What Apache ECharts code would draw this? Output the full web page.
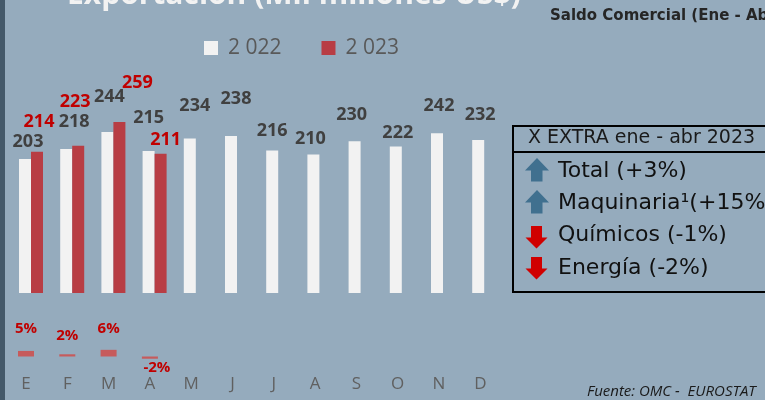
<!DOCTYPE html>
<html>
<head>
<meta charset="utf-8">
<script src="https://cdn.jsdelivr.net/npm/echarts@6/dist/echarts.min.js"></script>
<style>
  html, body { margin: 0; padding: 0; background: #95abbd; }
  #chart { width: 765px; height: 400px; }
</style>
</head>
<body>
<div id="chart"></div>
<script>
  // datos del gráfico
  const months = ['E', 'F', 'M', 'A', 'M', 'J', 'J', 'A', 'S', 'O', 'N', 'D']
  const exp2022 = [203, 218, 244, 215, 234, 238, 216, 210, 230, 222, 242, 232]
  const exp2023 = [214, 223, 259, 211, null, null, null, null, null, null, null, null]
  const varPct = [5, 2, 6, -2, null, null, null, null, null, null, null, null]
  const legendNames = ['2 022', '2 023']

  // ajuste manual de etiquetas (px): elevación sobre la barra y desplazamiento lateral
  const lift22 = [17, 27, 35, 33, 33, 37, 20, 16, 26, 14, 27, 25]
  const dx22 = [3, 8, 2, 0, 5, 5, 0, -3, -3, 2, 2, 2]
  const lift23 = [30, 44, 39, 14]
  const dx23 = [2, -3, 18, 5]
  const liftPct = [22, 19, 21, 9]
  const dxPct = [0, 0, 0, 7]

  const chartInstance = echarts.init(document.getElementById('chart'))

  const data2022 = exp2022.map((v, i) => ({
    value: v,
    label: { offset: [dx22[i], -(lift22[i] - 10)] }
  }))
  const data2023 = exp2023.map((v, i) => v === null ? '-' : ({
    value: v,
    label: { offset: [dx23[i], -(lift23[i] - 10)] }
  }))
  const dataPct = varPct.map((v, i) => {
    if (v === null) return '-'
    if (v >= 0) return { value: v, label: { position: 'top', offset: [dxPct[i], -(liftPct[i] - 8)] } }
    return { value: v, label: { position: 'bottom', offset: [dxPct[i], liftPct[i] - 8] } }
  })

  // flechas del recuadro
  const upArrow = (y) => ({
    type: 'polygon',
    shape: { points: [[537, y], [549, y + 12.5], [542.5, y + 12.5], [542.5, y + 23.5], [531, y + 23.5], [531, y + 12.5], [525, y + 12.5]] },
    style: { fill: '#40708f' }
  })
  const downArrow = (y) => ({
    type: 'polygon',
    shape: { points: [[531, y], [542, y], [542, y + 11.5], [547.5, y + 11.5], [536.5, y + 22.5], [525.5, y + 11.5], [531, y + 11.5]] },
    style: { fill: '#d00000' }
  })
  const boxRow = (text, y) => ({
    type: 'text', x: 558, y: y,
    style: { text: text, fill: '#111', font: '22px "DejaVu Sans"', verticalAlign: 'middle' }
  })

  const option = {
    animation: false,
    backgroundColor: '#95abbd',
    legend: {
      data: legendNames,
      left: 199,
      top: 32,
      icon: 'rect',
      itemWidth: 14,
      itemHeight: 14,
      itemGap: 40,
      textStyle: { fontFamily: 'Open Sans', fontSize: 21, color: '#595959', lineHeight: 22, padding: [0, 0, 0, 5] }
    },
    grid: [
      { left: 10.4, top: 95, width: 494.4, height: 198 },
      { left: 5.35, top: 346.5, width: 495.6, height: 20 }
    ],
    xAxis: [
      { type: 'category', gridIndex: 0, data: months, show: false },
      {
        type: 'category', gridIndex: 1, data: months,
        axisLine: { show: false }, axisTick: { show: false },
        axisLabel: { interval: 0, margin: 8, color: '#606060', fontFamily: 'Open Sans', fontSize: 17, lineHeight: 20 }
      }
    ],
    yAxis: [
      { type: 'value', gridIndex: 0, min: 0, max: 300, show: false },
      { type: 'value', gridIndex: 1, min: -9, max: 9, show: false }
    ],
    series: [
      {
        name: '2 022', type: 'bar', data: data2022, barWidth: 12, barGap: '0%',
        itemStyle: { color: '#f2f2f2' },
        label: { show: true, position: 'top', distance: 0, fontFamily: 'Open Sans', fontWeight: 700, fontSize: 18, lineHeight: 20, color: '#404040' }
      },
      {
        name: '2 023', type: 'bar', data: data2023, barWidth: 12, barGap: '0%',
        itemStyle: { color: '#b83d44' },
        label: { show: true, position: 'top', distance: 0, fontFamily: 'Open Sans', fontWeight: 700, fontSize: 18, lineHeight: 20, color: '#c00000' }
      },
      {
        name: 'Var', type: 'bar', xAxisIndex: 1, yAxisIndex: 1, data: dataPct, barWidth: 16,
        itemStyle: { color: '#c65b5c' },
        label: { show: true, distance: 0, formatter: '{c}%', fontFamily: 'Open Sans', fontWeight: 700, fontSize: 15, lineHeight: 16, color: '#c00000' }
      }
    ],
    graphic: [
      { type: 'rect', shape: { x: 0, y: 0, width: 5, height: 400 }, style: { fill: '#44596a' } },
      {
        type: 'text', left: 67, top: -20,
        style: { text: 'Exportación (Mil millones US$)', fill: '#f2f2f2', font: 'bold 30px "Open Sans"' }
      },
      {
        type: 'text', x: 550, y: 16,
        style: { text: 'Saldo Comercial (Ene - Abr)', fill: '#262626', font: 'bold 15px "DejaVu Sans"', verticalAlign: 'middle' }
      },
      { type: 'rect', shape: { x: 513, y: 126, width: 270, height: 166 }, style: { fill: null, stroke: '#000', lineWidth: 2 } },
      { type: 'line', shape: { x1: 513, y1: 152, x2: 770, y2: 152 }, style: { stroke: '#000', lineWidth: 2 } },
      {
        type: 'text', x: 528, y: 138,
        style: { text: 'X EXTRA ene - abr 2023', fill: '#1a1a1a', font: '19px "DejaVu Sans"', verticalAlign: 'middle' }
      },
      upArrow(158), upArrow(190), downArrow(226), downArrow(257),
      boxRow('Total (+3%)', 171),
      boxRow('Maquinaria¹(+15%)', 203),
      boxRow('Químicos (-1%)', 235),
      boxRow('Energía (-2%)', 268),
      {
        type: 'text', x: 587, y: 392,
        style: { text: 'Fuente: OMC -  EUROSTAT', fill: '#1a1a1a', font: 'italic 15px "Open Sans"', verticalAlign: 'middle' }
      }
    ]
  }

  chartInstance.setOption(option)
  window.addEventListener('resize', () => {
    chartInstance?.resize()
  })
</script>
</body>
</html>
